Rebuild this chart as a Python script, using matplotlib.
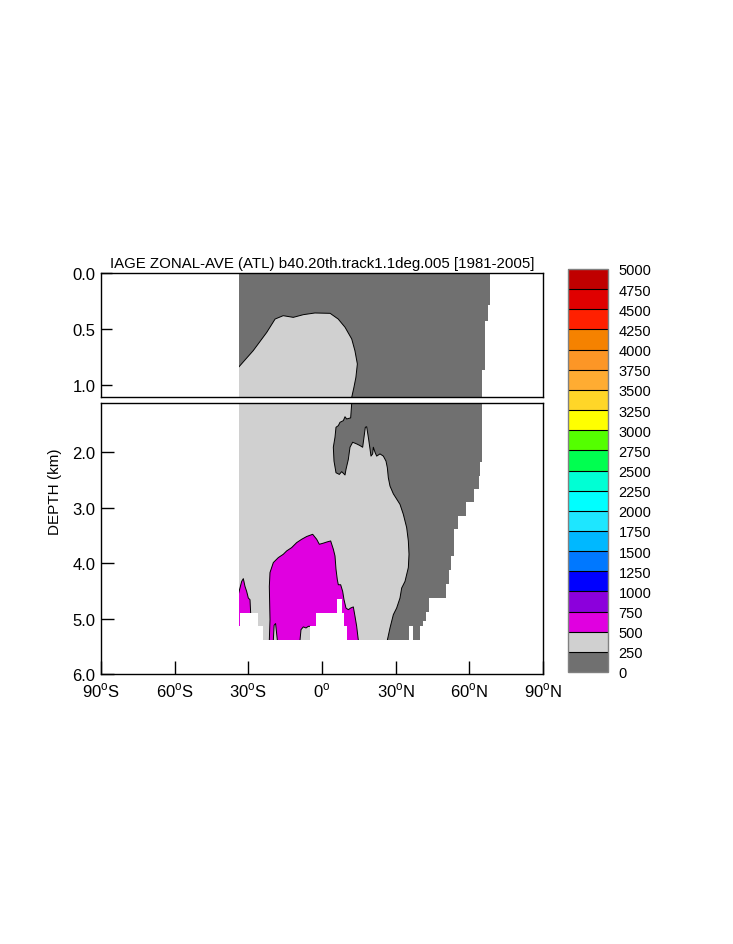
import numpy as np
import matplotlib
matplotlib.use('Agg')
import matplotlib.pyplot as plt
from matplotlib.colors import ListedColormap, BoundaryNorm

plt.rcParams['font.family'] = ['Liberation Sans', 'DejaVu Sans']

title = 'IAGE ZONAL-AVE (ATL) b40.20th.track1.1deg.005 [1981-2005]'

# contour levels (years) and their fill colours, bottom to top
levels = list(range(0, 5001, 250))
level_colors = ['#707070', '#d0d0d0', '#e000e0', '#8c00dc', '#0000ff',
                '#0078ff', '#00b8ff', '#1ee6ff', '#00ffff', '#00ffd4',
                '#00ff50', '#54ff00', '#ffff00', '#ffd628', '#ffac32',
                '#fc9626', '#f58200', '#ff2000', '#e00000', '#c00000']

xticks = [-90, -60, -30, 0, 30, 60, 90]
xlabels = ['90$^{\\mathregular{o}}$S', '60$^{\\mathregular{o}}$S', '30$^{\\mathregular{o}}$S',
           '0$^{\\mathregular{o}}$', '30$^{\\mathregular{o}}$N', '60$^{\\mathregular{o}}$N',
           '90$^{\\mathregular{o}}$N']

# ocean extent (lat in deg, depth in km)
west_lat = -34.0
east_dep_edges = [0.0, 0.29, 0.43, 0.87, 2.185, 2.426, 2.655, 2.896, 3.15, 3.391,
                  3.873, 4.126, 4.385, 4.638, 4.886, 5.048, 5.14, 6.5]
east_lat = [68.4, 67.7, 66.4, 65.1, 64.3, 63.8, 61.9, 58.5, 55.3, 53.6,
            52.4, 51.9, 50.5, 43.6, 42.2, 41.3, 39.9]
bathy_lat_edges = [-34.0, -33.4, -26.0, -24.0, -4.9, -2.4, 6.0, 8.1, 9.0, 10.0,
                   35.4, 36.9, 70.0]
bathy_depth = [5.14, 4.90, 5.14, 5.39, 5.14, 4.90, 4.64, 4.90, 5.14, 5.39,
               5.14, 5.39]

# 250-yr contour
c250_lat = [-34.0, -28.0, -22.5, -19.1, -15.8, -11.7, -7.6, -2.9, 3.3, 6.6,
            9.4, 12.1, 13.4, 14.4, 13.8, 13.0, 12.1, 12.08, 11.67, 10.04,
            9.37, 8.69, 7.33, 6.65, 5.70, 5.29, 4.61, 4.89, 5.70, 7.06,
            8.01, 9.37, 9.77, 10.72, 11.40, 12.49, 14.12, 15.47, 16.56, 17.10,
            17.64, 18.19, 18.87, 19.55, 19.95, 20.63, 20.90, 21.58, 22.26, 23.62,
            24.98, 26.06, 26.61, 27.01, 27.69, 29.05, 31.76, 33.12, 34.48, 35.16,
            35.43, 35.16, 33.80, 32.44, 31.76, 30.40, 29.05, 27.69, 26.61]
c250_dep = [0.842, 0.693, 0.530, 0.411, 0.381, 0.396, 0.372, 0.357, 0.360, 0.411,
            0.485, 0.589, 0.693, 0.812, 0.932, 1.021, 1.110, 1.13, 1.38, 1.40,
            1.36, 1.43, 1.46, 1.52, 1.55, 1.73, 1.91, 2.16, 2.37, 2.40,
            2.35, 2.41, 2.31, 2.13, 1.91, 1.82, 1.85, 1.88, 1.91, 1.73,
            1.55, 1.54, 1.73, 1.94, 2.07, 2.03, 1.91, 2.00, 2.07, 2.03,
            2.07, 2.16, 2.28, 2.46, 2.61, 2.75, 2.94, 3.12, 3.36, 3.60,
            3.84, 4.08, 4.33, 4.45, 4.63, 4.81, 4.93, 5.17, 5.39]

# 500-yr contour, main body
c500_lat = [-21.45, -21.18, -21.45, -21.18, -19.82, -17.78, -15.75, -14.39, -12.35, -10.32,
            -8.28, -6.24, -3.80, -2.17, -1.09, 0.54, 1.90, 3.53, 4.62, 5.29,
            5.70, 6.24, 6.65, 7.60, 8.42, 8.96, 9.77, 10.72, 11.67, 12.76,
            13.44, 14.12, 14.52, 14.80]
c500_dep = [5.39, 5.02, 4.42, 4.17, 3.99, 3.90, 3.84, 3.78, 3.72, 3.63,
            3.57, 3.52, 3.48, 3.57, 3.66, 3.64, 3.62, 3.60, 3.75, 3.87,
            4.11, 4.30, 4.39, 4.39, 4.51, 4.66, 4.81, 4.84, 4.81, 4.79,
            4.96, 5.14, 5.29, 5.39]
# 500-yr contour, small patch on western wall
c500w_lat = [-34.0, -32.71, -32.04, -31.36, -30.68, -30.0, -29.32, -29.05]
c500w_dep = [4.55, 4.33, 4.28, 4.42, 4.51, 4.63, 4.66, 4.90]
# younger water pockets inside the 500-yr body
spike_lat = [-19.82, -19.5, -18.9, -18.19]
spike_dep = [5.39, 5.12, 5.09, 5.39]
notch_lat = [-8.96, -8.55, -7.6, -6.52, -5.57, -4.89]
notch_dep = [5.39, 5.20, 5.15, 5.17, 5.14, 5.14]


def region(ax, lats, deps, color):
    ax.fill(list(lats) + [lats[-1], lats[0]], list(deps) + [6.5, 6.5],
            color=color, lw=0, zorder=1)
    ax.plot(lats, deps, color='k', lw=0.7, zorder=1.5)


def draw(ax):
    ax.fill_betweenx([-0.5, 6.5], west_lat, 70, color=level_colors[0], lw=0, zorder=0.5)
    region(ax, c250_lat, c250_dep, level_colors[1])
    region(ax, c500_lat, c500_dep, level_colors[2])
    region(ax, c500w_lat, c500w_dep, level_colors[2])
    region(ax, spike_lat, spike_dep, level_colors[1])
    region(ax, notch_lat, notch_dep, level_colors[1])
    # land
    ax.fill_betweenx([-0.5, 6.5], -90, west_lat, color='white', lw=0, zorder=2)
    ys = np.repeat(east_dep_edges, 2)[1:-1]
    xs = np.repeat(east_lat, 2)
    ax.fill_betweenx(ys, xs, 90, color='white', lw=0, zorder=2)
    xs = np.repeat(bathy_lat_edges, 2)[1:-1]
    ys = np.repeat(bathy_depth, 2)
    ax.fill_between(xs, ys, 6.5, color='white', lw=0, zorder=2)
    ax.set_xlim(-90, 90)
    ax.set_axisbelow(False)
    for s in ax.spines.values():
        s.set_linewidth(1.0)
        s.set_zorder(3)


fig = plt.figure(figsize=(7.33, 9.45), dpi=100)
ax1 = fig.add_axes([101 / 733, 1 - 398 / 945, 442 / 733, 124 / 945])
ax2 = fig.add_axes([101 / 733, 1 - 675 / 945, 442 / 733, 271 / 945])

draw(ax1)
ax1.set_ylim(1.107, 0)
ax1.set_yticks([0.0, 0.5, 1.0])
ax1.set_yticklabels(['0.0', '0.5', '1.0'])
ax1.set_xticks([])
ax1.tick_params(axis='y', direction='in', length=8, width=1, labelsize=12, pad=4)
ax1.set_title(title, fontsize=10.8, pad=4)

draw(ax2)
ax2.set_ylim(6.0, 1.112)
ax2.set_yticks([2.0, 3.0, 4.0, 5.0, 6.0])
ax2.set_yticklabels(['2.0', '3.0', '4.0', '5.0', '6.0'])
ax2.set_xticks(xticks)
ax2.set_xticklabels(xlabels)
ax2.tick_params(axis='y', direction='in', length=9.5, width=1, labelsize=12, pad=4)
ax2.tick_params(axis='x', direction='in', length=9.5, width=1, labelsize=12, pad=5)
ax2.set_ylabel('DEPTH (km)', fontsize=11)
ax2.yaxis.set_label_coords(-0.088, 0.675)

cax = fig.add_axes([567.5 / 733, 1 - 673 / 945, 40 / 733, 403 / 945])
cmap = ListedColormap(level_colors)
norm = BoundaryNorm(levels, cmap.N)
sm = plt.cm.ScalarMappable(norm=norm, cmap=cmap)
cb = fig.colorbar(sm, cax=cax, ticks=levels, drawedges=True)
cb.dividers.set_color('k')
cb.dividers.set_linewidth(0.8)
cb.outline.set_edgecolor('#808080')
cb.outline.set_linewidth(1.0)
cax.set_yticklabels([str(v) for v in levels])
cax.tick_params(length=0, pad=8, labelsize=10.5)

fig.savefig('out.png', dpi=100)
